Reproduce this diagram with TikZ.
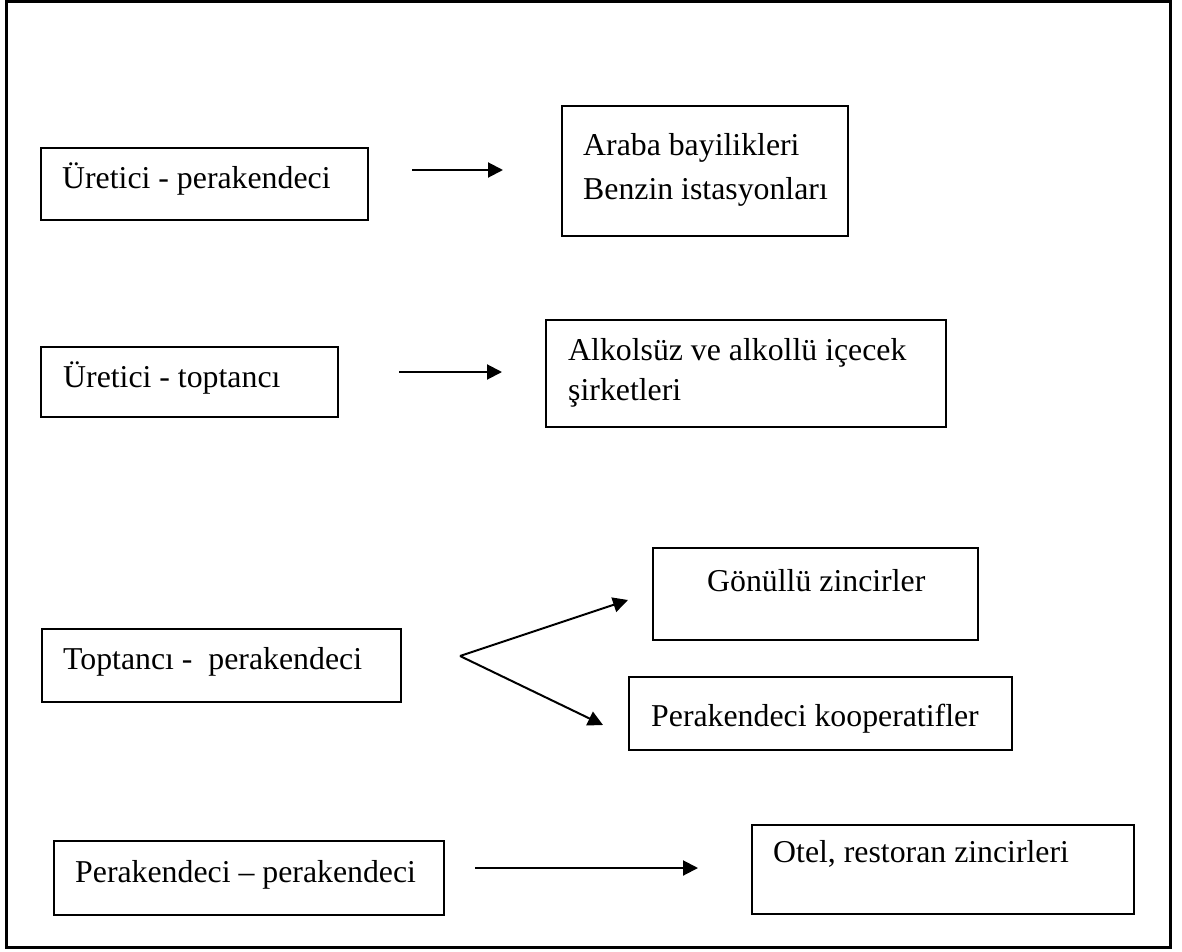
\documentclass[tikz,border=0pt]{standalone}
\usepackage{fontspec}
\setmainfont{Liberation Serif}
\usetikzlibrary{arrows.meta}
\begin{document}
\begin{tikzpicture}[x=1pt,y=-1pt,
  box/.style={draw=black,line width=1.3pt,inner sep=0pt,minimum width=#1},
  lbl/.style={anchor=base west,inner sep=0pt,font=\fontsize{31.8}{40}\selectfont},
  arr/.style={line width=2pt,-{Triangle[length=15pt,width=15pt]}},
  frame/.style={draw=black,line width=3pt}]
\useasboundingbox (0,0) rectangle (1182,952);
\draw[frame] (6,1.5) rectangle (1170,947);
% boxes
\node[box=327pt,minimum height=72pt] (b1) at (204.5,184) {};
\node[box=286pt,minimum height=130pt] (b2) at (705,171) {};
\node[box=297pt,minimum height=70pt] (b3) at (189.5,382) {};
\node[box=400pt,minimum height=107pt] (b4) at (746,373.5) {};
\node[box=359pt,minimum height=73pt] (b5) at (221.5,665.5) {};
\node[box=325pt,minimum height=92pt] (b6) at (815.5,594) {};
\node[box=383pt,minimum height=73pt] (b7) at (820.5,713.5) {};
\node[box=390pt,minimum height=74pt] (b8) at (249,878) {};
\node[box=382pt,minimum height=89pt] (b9) at (943,869.5) {};
% texts
\node[lbl] (t1) at (62,188) {Üretici - perakendeci};
\node[lbl] (t2a) at (583,156) {Araba bayilikleri};
\node[lbl] (t2b) at (583,199) {Benzin istasyonları};
\node[lbl] (t3) at (63,387) {Üretici - toptancı};
\node[lbl] (t4a) at (568,360) {Alkolsüz ve alkollü içecek};
\node[lbl] (t4b) at (568,400) {şirketleri};
\node[lbl] (t5) at (63,669) {Toptancı -\ \ perakendeci};
\node[lbl] (t6) at (707,591) {Gönüllü zincirler};
\node[lbl] (t7) at (651,726) {Perakendeci kooperatifler};
\node[lbl] (t8) at (75,882) {Perakendeci – perakendeci};
\node[lbl] (t9) at (773,862) {Otel, restoran zincirleri};
% arrows
\coordinate (a1s) at (412,170);
\coordinate (a1e) at (503,170);
\coordinate (a2s) at (399,372);
\coordinate (a2e) at (502,372);
\coordinate (v) at (460,656);
\coordinate (a5u) at (628,600);
\coordinate (a5d) at (603,725);
\coordinate (a8s) at (475,868);
\coordinate (a8e) at (698,868);
\draw[arr] (a1s) -- (a1e);
\draw[arr] (a2s) -- (a2e);
\draw[arr] (v) -- (a5u);
\draw[arr] (v) -- (a5d);
\draw[arr] (a8s) -- (a8e);
\end{tikzpicture}
\end{document}
